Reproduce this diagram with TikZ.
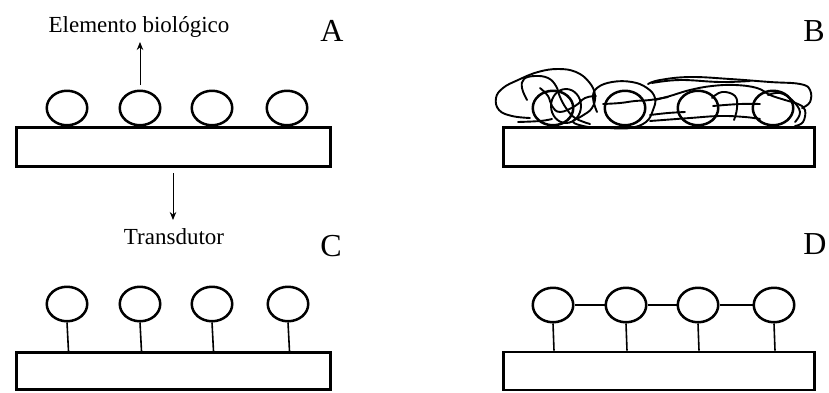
\documentclass[tikz,border=0pt]{standalone}
\usepackage{fontspec}
\setmainfont{Liberation Serif}
\usetikzlibrary{shapes.geometric,arrows.meta}
\begin{document}
\begin{tikzpicture}[x=1pt,y=-1pt,
  bead/.style={ellipse,draw,line width=2.5pt,minimum width=40.5pt,minimum height=34.5pt,inner sep=0pt},
  base/.style={rectangle,draw,line width=2.7pt,inner sep=0pt,minimum width=314pt,minimum height=39pt},
  stem/.style={line width=1.6pt},
  pointer/.style={line width=1pt,-{Stealth[length=8pt,width=6.5pt]}},
  scrib/.style={line width=1.9pt,line join=round,line cap=round},
  caption/.style={font=\fontsize{23}{23}\selectfont,inner sep=2pt},
  panel/.style={font=\fontsize{32}{32}\selectfont,inner sep=0pt}]
\useasboundingbox (0,0) rectangle (829,392);

% ---- A: beads resting on the transducer ----
\node[base] (baseA) at (173.5,147) {};
\foreach \i/\x in {1/67,2/140,3/212,4/287}
  \node[bead] (a\i) at (\x,108) {};
\node[caption,anchor=base] (bio) at (139,32) {Elemento biológico};
\coordinate (bioFrom) at (140,85);
\coordinate (bioTo) at (140,42);
\draw[pointer] (bioFrom) -- (bioTo);
\node[panel] (lA) at (332,31) {A};

% ---- B: beads tangled in a loose mesh ----
\node[base,minimum width=311pt] (baseB) at (659,147) {};
\foreach \i/\x in {1/553,2/625,3/698,4/773}
  \node[bead] (b\i) at (\x,108) {};
\draw[scrib] (566,106) ellipse (15 and 17);
\draw[scrib] plot[smooth,tension=0.7] coordinates {(518,122) (540,121) (552,119)};
\draw[scrib] plot[smooth,tension=0.7] coordinates {(530,118) (512,116) (499,110) (496,98) (503,88) (518,80) (538,72) (558,69) (576,72) (589,82) (595,95) (592,108) (582,116) (573,122) (588,127) (605,128)};
\draw[scrib] plot[smooth,tension=0.7] coordinates {(527,100) (522,88) (524,79) (535,76) (548,78) (556,86) (560,97) (566,108) (575,118) (590,124)};
\draw[scrib] plot[smooth,tension=0.7] coordinates {(540,88) (548,96) (552,106) (560,112) (575,106) (585,98) (596,96)};
\draw[scrib] plot[smooth,tension=0.7] coordinates {(597,112) (593,98) (597,88) (612,82) (632,82) (647,88) (655,98) (653,110) (646,122) (630,128) (610,128)};
\draw[scrib] plot[smooth,tension=0.7] coordinates {(603,104) (620,103) (635,101) (650,100) (668,97)};
\draw[scrib] plot[smooth,tension=0.7] coordinates {(648,84) (660,80) (690,77) (730,79) (770,82) (800,84) (810,90) (810,102) (802,108)};
\draw[scrib] plot[smooth,tension=0.7] coordinates {(652,83) (680,80) (720,82) (750,81)};
\draw[scrib] plot[smooth,tension=0.7] coordinates {(655,100) (670,96) (690,90) (712,86) (735,85) (757,88) (770,95) (785,100) (798,104) (805,110) (803,122) (795,126)};
\draw[scrib] plot[smooth,tension=0.7] coordinates {(712,98) (722,92) (735,96) (737,108) (734,120)};
\draw[scrib] plot[smooth,tension=0.7] coordinates {(650,115) (668,113) (685,112)};
\draw[scrib] plot[smooth,tension=0.7] coordinates {(650,121) (690,118) (720,116) (745,117) (760,119)};
\draw[scrib] plot[smooth,tension=0.7] coordinates {(713,106) (740,104) (760,104)};
\draw[scrib] plot[smooth,tension=0.7] coordinates {(768,95) (780,93) (792,100) (800,112) (795,122)};
\node[panel] (lB) at (814,31) {B};

% ---- C: beads tethered to the transducer ----
\node[base,minimum height=37pt] (baseC) at (173.5,371) {};
\foreach \i/\x in {1/67,2/140,3/212,4/288}
  \node[bead] (c\i) at (\x,304) {};
\foreach \i in {1,...,4}
  \draw[stem] (c\i.south) -- ([xshift=1.5pt]c\i.south |- baseC.north);
\coordinate (trFrom) at (173,173);
\coordinate (trTo) at (173,220);
\draw[pointer] (trFrom) -- (trTo);
\node[caption,anchor=base] (trans) at (174,244) {Transdutor};
\node[panel] (lC) at (331,246) {C};

% ---- D: tethered beads linked to each other ----
\node[base,minimum width=311pt,minimum height=38pt] (baseD) at (659,371) {};
\foreach \i/\x in {1/553,2/626,3/698,4/774}
  \node[bead] (d\i) at (\x,305) {};
\foreach \i in {1,...,4}
  \draw[stem] (d\i.south) -- ([xshift=1pt]d\i.south |- baseD.north);
\foreach \i/\j in {1/2,2/3,3/4}
  \draw[stem] (d\i.east) -- (d\j.west);
\node[panel] (lD) at (815,244) {D};
\end{tikzpicture}
\end{document}
